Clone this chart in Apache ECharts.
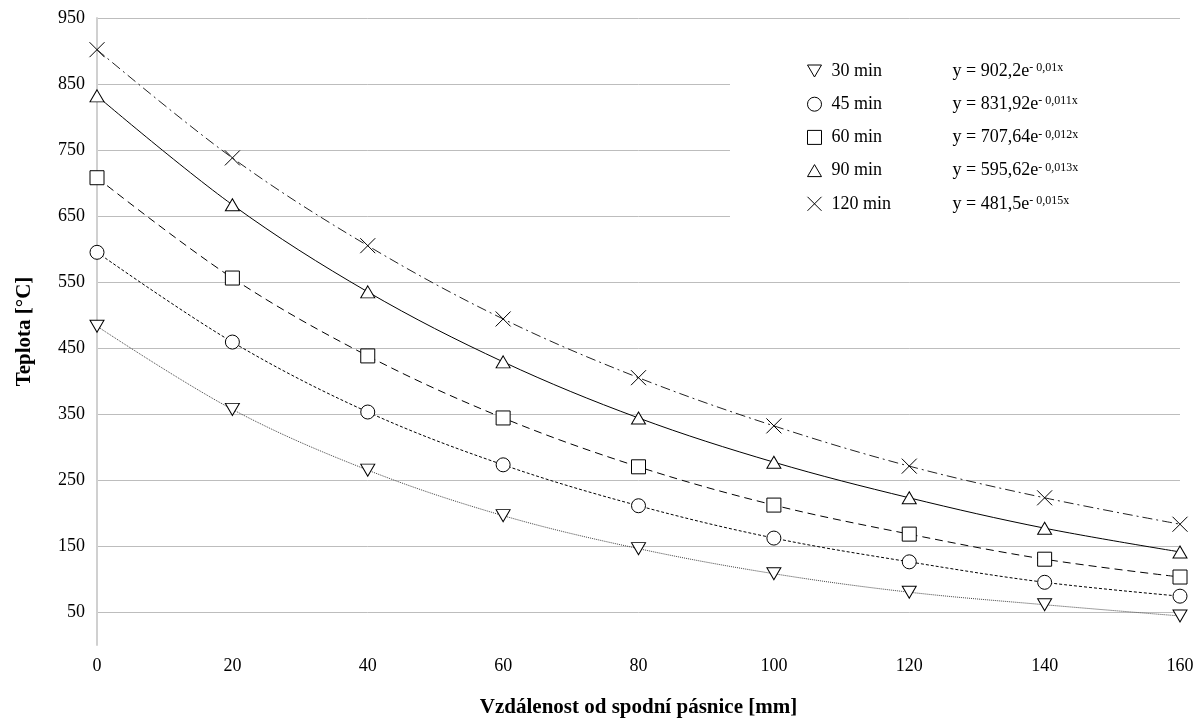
<!DOCTYPE html>
<html>
<head>
<meta charset="utf-8">
<script src="https://cdn.jsdelivr.net/npm/echarts@6/dist/echarts.min.js"></script>
<style>html,body{margin:0;padding:0;background:#fff;}#c{width:1201px;height:725px;}</style>
</head>
<body>
<div id="c"></div>
<script>
// distance from bottom flange [mm]
const xValues = [0, 20, 40, 60, 80, 100, 120, 140, 160];
const yTicks = [50, 150, 250, 350, 450, 550, 650, 750, 850, 950];
const seriesNames = ['30 min', '45 min', '60 min', '90 min', '120 min'];
const equations = [
  ['902,2', '- 0,01x'],
  ['831,92', '- 0,011x'],
  ['707,64', '- 0,012x'],
  ['595,62', '- 0,013x'],
  ['481,5', '- 0,015x']
];
const t30 = [483, 357, 265, 196, 146, 108, 80, 61, 44];
const t45 = [595, 459, 353, 273, 211, 162, 126, 95, 74];
const t60 = [708, 556, 438, 344, 270, 212, 168, 130, 103];
const t90 = [832, 667, 535, 429, 344, 277, 223, 177, 141];
const t120 = [902, 738, 605, 494, 405, 332, 271, 223, 183];

const FONT = '"Liberation Serif", "Times New Roman", serif';
const symbols = [
  'path://M0,0 L14,0 L7,12 Z',
  'circle',
  'rect',
  'path://M7,0 L14,12 L0,12 Z',
  'path://M0,0 L14,14 M14,0 L0,14'
];
const sizes = [[14, 12], 14, [14, 14], [14, 12], [15, 15]];
const lineStyles = [
  { color: '#444', width: 1, type: [1, 1] },
  { color: '#000', width: 1, type: [3, 2] },
  { color: '#000', width: 1, type: [8, 5] },
  { color: '#000', width: 1, type: 'solid' },
  { color: '#222', width: 1, type: [10, 4, 2, 4] }
];
const allData = [t30, t45, t60, t90, t120];

const series = allData.map((vals, i) => ({
  name: seriesNames[i],
  type: 'line',
  smooth: 0.35,
  data: xValues.map((x, k) => [x, vals[k]]),
  symbol: symbols[i],
  symbolSize: sizes[i],
  showAllSymbol: true,
  lineStyle: lineStyles[i],
  itemStyle: { color: '#fff', borderColor: '#000', borderWidth: 1 },
  emphasis: { disabled: true },
  z: 3
}));

const chart = echarts.init(document.getElementById('c'));
chart.setOption({
  animation: false,
  backgroundColor: '#fff',
  grid: { left: 97, right: 21, top: 18, bottom: 80, outerBoundsMode: 'none', containLabel: false },
  xAxis: {
    type: 'value', min: 0, max: 160, interval: 20,
    name: 'Vzdálenost od spodní pásnice [mm]',
    nameLocation: 'middle', nameGap: 52, nameMoveOverlap: false,
    nameTextStyle: { fontFamily: FONT, fontSize: 21, fontWeight: 'bold', color: '#000' },
    axisLine: { show: false }, axisTick: { show: false },
    splitLine: { show: false },
    axisLabel: { fontFamily: FONT, fontSize: 18, color: '#000', margin: 12 }
  },
  yAxis: {
    type: 'value', min: 0, max: 950,
    name: 'Teplota [°C]',
    nameLocation: 'middle', nameGap: 62, nameMoveOverlap: false,
    nameTextStyle: { fontFamily: FONT, fontSize: 21, fontWeight: 'bold', color: '#000' },
    axisLine: { show: true, lineStyle: { color: '#d0d0d0', width: 2 } },
    axisTick: { show: false, customValues: yTicks },
    splitLine: { show: true, lineStyle: { color: '#bdbdbd', width: 1 } },
    axisLabel: { fontFamily: FONT, fontSize: 18, color: '#000', margin: 12, customValues: yTicks }
  },
  legend: {
    orient: 'vertical',
    left: 730, top: 30,
    padding: [32, 120, 50, 77],
    backgroundColor: '#fff',
    itemWidth: 14, itemHeight: 14, itemGap: 15.2,
    data: seriesNames.map((n, i) => ({
      name: n, icon: symbols[i],
      itemStyle: { color: '#fff', borderColor: '#000', borderWidth: 1 }
    })),
    formatter: function (name) {
      const i = seriesNames.indexOf(name);
      return '{n|' + name + '}{e|y = ' + equations[i][0] + 'e}{s|' + equations[i][1] + '}';
    },
    textStyle: {
      fontFamily: FONT, fontSize: 18, color: '#000',
      rich: {
        n: { fontFamily: FONT, fontSize: 18, color: '#000', width: 121, padding: [0, 0, 0, 5] },
        e: { fontFamily: FONT, fontSize: 18, color: '#000' },
        s: { fontFamily: FONT, fontSize: 12, color: '#000', verticalAlign: 'top', lineHeight: 12, padding: [0, 0, 6, 0] }
      }
    },
    selectedMode: false
  },
  series: series
});
</script>
</body>
</html>
